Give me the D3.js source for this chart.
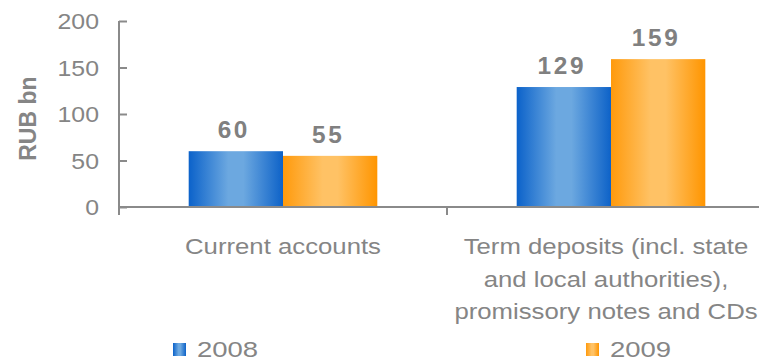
<!DOCTYPE html>
<html>
<head>
<meta charset="utf-8">
<script src="https://cdn.jsdelivr.net/npm/d3@7/dist/d3.min.js"></script>
<style>
  html, body { margin: 0; padding: 0; background: #fff; }
  svg { display: block; font-family: "Liberation Sans", Arial, sans-serif; }
</style>
</head>
<body>
<svg id="chart" width="759" height="360"></svg>
<script>
// Customer funds by type, RUB bn
const categories = ["Current accounts", "Term deposits"];
const categoryLines = [
  ["Current accounts"],
  ["Term deposits (incl. state", "and local authorities),", "promissory notes and CDs"]
];
const series = ["2008", "2009"];
const values2008 = [60, 129];
const values2009 = [55, 159];
const yTicks = [0, 50, 100, 150, 200];
const yTitle = "RUB bn";

const W = 759, H = 360;
const svg = d3.select("#chart");
const textGray = "#858585";
const axisGray = "#8a8a8a";

// horizontal gradients giving the bars their cylinder look
const defs = svg.append("defs");
function cylinder(id, edgeL, light, edgeR) {
  const g = defs.append("linearGradient").attr("id", id)
    .attr("x1", "0%").attr("x2", "100%").attr("y1", "0%").attr("y2", "0%");
  g.append("stop").attr("offset", "0%").attr("stop-color", edgeL);
  g.append("stop").attr("offset", "42%").attr("stop-color", light);
  g.append("stop").attr("offset", "58%").attr("stop-color", light);
  g.append("stop").attr("offset", "100%").attr("stop-color", edgeR);
}
cylinder("g2008", "#0b62ca", "#6ca8e0", "#0d62c8");
cylinder("g2009", "#ff9a0c", "#ffc265", "#ff9500");
const fills = { "2008": "url(#g2008)", "2009": "url(#g2009)" };

// scales: the category band runs past the right edge of the page
const x = d3.scaleBand().domain(categories).range([119, 775]).padding(0);
const xs = d3.scaleBand().domain(series).range([0, x.bandwidth()])
  .paddingInner(0).paddingOuter(0.739);
const y = d3.scaleLinear().domain([0, 200]).range([207, 21]);

// text helper with a slight horizontal stretch
function label(g, txt, px, py, opts) {
  const o = Object.assign({ size: 22, weight: "normal", anchor: "middle", sx: 1.12, ls: 0, fill: textGray }, opts || {});
  return g.append("text")
    .attr("transform", `translate(${px},${py}) scale(${o.sx},1)`)
    .attr("text-anchor", o.anchor)
    .attr("font-size", o.size)
    .attr("font-weight", o.weight)
    .attr("letter-spacing", o.ls)
    .attr("fill", o.fill)
    .text(txt);
}

// bars
const rows = categories.map((c, i) => ({ cat: c, vals: [
  { s: "2008", v: values2008[i] }, { s: "2009", v: values2009[i] }
]}));
const groups = svg.append("g").selectAll("g").data(rows).join("g")
  .attr("transform", d => `translate(${x(d.cat)},0)`);
groups.selectAll("rect").data(d => d.vals).join("rect")
  .attr("x", d => xs(d.s))
  .attr("width", xs.bandwidth())
  .attr("y", d => y(d.v))
  .attr("height", d => y(0) - y(d.v))
  .attr("fill", d => fills[d.s]);

// value labels
groups.each(function (d) {
  const g = d3.select(this);
  d.vals.forEach(e => {
    label(g, String(e.v), xs(e.s) + xs.bandwidth() / 2 - 2, y(e.v) - 13,
      { size: 23, weight: "bold", ls: 2.5, sx: 1.06, fill: "#808080" });
  });
});

// y axis with inward ticks
const yAxis = d3.axisLeft(y).tickValues(yTicks).tickSize(-8).tickPadding(20);
const ya = svg.append("g").attr("transform", "translate(119,0)").call(yAxis);
ya.select(".domain").remove();
ya.selectAll(".tick line").attr("stroke", axisGray).attr("stroke-width", 2);
ya.selectAll(".tick text").remove();
yTicks.forEach(t => label(svg, String(t), 99, y(t) + 8, { anchor: "end", sx: 1.13 }));
svg.append("line").attr("x1", 119).attr("x2", 119).attr("y1", y(200)).attr("y2", y(0) + 8)
  .attr("stroke", axisGray).attr("stroke-width", 2);

// x axis with ticks at category boundaries
svg.append("line").attr("x1", 119).attr("x2", W).attr("y1", y(0)).attr("y2", y(0))
  .attr("stroke", axisGray).attr("stroke-width", 2);
categories.forEach(c => {
  svg.append("line").attr("x1", x(c)).attr("x2", x(c)).attr("y1", y(0)).attr("y2", y(0) + 8)
    .attr("stroke", axisGray).attr("stroke-width", 2);
});

// y axis title
svg.append("text")
  .attr("transform", `translate(36,${y(95)}) rotate(-90)`)
  .attr("text-anchor", "middle")
  .attr("font-size", 23).attr("font-weight", "bold").attr("fill", textGray)
  .text(yTitle);

// category labels, wrapped and kept inside the page width
categories.forEach((c, i) => {
  const cx = Math.min(x(c) + x.bandwidth() / 2, W - 153);
  categoryLines[i].forEach((ln, j) => label(svg, ln, cx, 254 + j * 32.5, { sx: 1.17 }));
});

// legend
const legendX = [173, 586];
series.forEach((s, i) => {
  svg.append("rect").attr("x", legendX[i]).attr("y", 343).attr("width", 13).attr("height", 13)
    .attr("fill", fills[s]);
  label(svg, s, legendX[i] + 24, 356.5, { anchor: "start", sx: 1.25 });
});
</script>
</body>
</html>
